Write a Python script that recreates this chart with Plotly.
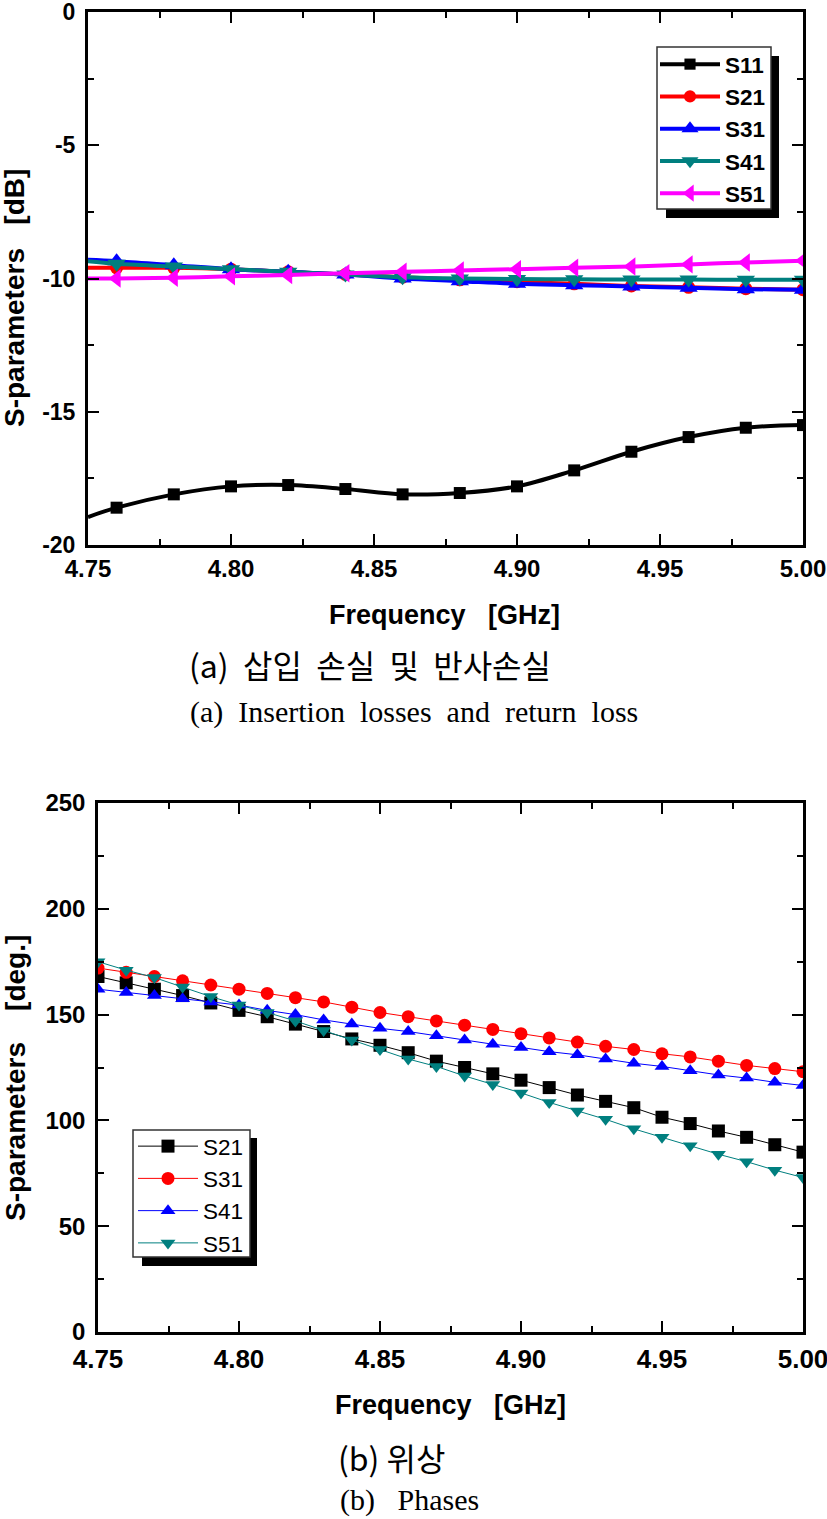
import plotly.graph_objects as go

W, H = 827, 1519

# (a) magnitude, dB
freq_a = [4.75, 4.76, 4.78, 4.80, 4.82, 4.84, 4.86, 4.88, 4.90, 4.92, 4.94, 4.96, 4.98, 5.00]
s11_a = [-18.95, -18.6, -18.1, -17.8, -17.75, -17.9, -18.1, -18.05, -17.8, -17.2, -16.5, -15.95, -15.6, -15.5]
s21_a = [-9.6, -9.6, -9.6, -9.65, -9.75, -9.85, -9.95, -10.05, -10.12, -10.2, -10.28, -10.33, -10.38, -10.42]
s31_a = [-9.3, -9.35, -9.5, -9.65, -9.75, -9.85, -10.0, -10.1, -10.2, -10.25, -10.3, -10.35, -10.4, -10.42]
s41_a = [-9.35, -9.45, -9.55, -9.65, -9.75, -9.85, -9.95, -10.0, -10.02, -10.03, -10.04, -10.04, -10.05, -10.05]
s51_a = [-10.0, -10.0, -9.97, -9.92, -9.87, -9.8, -9.75, -9.7, -9.65, -9.6, -9.55, -9.47, -9.4, -9.33]

# (b) phase, deg
freq_b = [4.75, 4.76, 4.77, 4.78, 4.79, 4.80, 4.81, 4.82, 4.83, 4.84, 4.85, 4.86, 4.87,
          4.88, 4.89, 4.90, 4.91, 4.92, 4.93, 4.94, 4.95, 4.96, 4.97, 4.98, 4.99, 5.00]
s21_b = [168, 165, 162, 159, 155.5, 152, 149, 145.5, 142, 138.5, 135.5, 132, 128,
         125, 122, 119, 115.5, 112, 109, 106, 101.5, 98.5, 95, 92, 88.5, 85]
s31_b = [172, 170, 168, 166, 164, 162, 160, 158, 156, 153.5, 151, 149, 147,
         145, 143, 141, 139, 137, 135, 133.5, 131.5, 130, 128, 126, 124.5, 123]
s41_b = [162, 160.5, 159, 157.5, 156, 154.5, 152, 150, 147.5, 145.5, 143.5, 142, 140,
         138, 136, 134.5, 132.5, 131, 129, 127, 125.5, 123.5, 121.5, 120, 118, 116.5]
s51_b = [175, 171, 167.5, 163, 158.5, 154.5, 151, 147, 142.5, 138, 133.5, 129, 125.5,
         121, 117, 113, 108.5, 104.5, 100.5, 96, 92, 88, 84, 80.5, 76.5, 73]

x_ticks = [4.75, 4.80, 4.85, 4.90, 4.95, 5.00]
x_labels = ['4.75', '4.80', '4.85', '4.90', '4.95', '5.00']
x_minor = [4.775, 4.825, 4.875, 4.925, 4.975]
y_ticks_a = [0, -5, -10, -15, -20]
y_labels_a = ['0', '-5', '-10', '-15', '-20']
y_minor_a = [-2.5, -7.5, -12.5, -17.5]
y_ticks_b = [0, 50, 100, 150, 200, 250]
y_labels_b = ['0', '50', '100', '150', '200', '250']
y_minor_b = [25, 75, 125, 175, 225]

colors = ['black', 'red', 'blue', '#007f7f', 'magenta']
SANS = 'Liberation Sans'
SERIF = 'Liberation Serif'
KOREAN = 'Noto Sans CJK KR'


def px(x):
    return x / W


def py(y):
    return 1 - y / H


fig = go.Figure()

# first point of (a) sits on the axis and has no symbol
series_a = [('S11', s11_a, 'square', 12), ('S21', s21_a, 'circle', 13), ('S31', s31_a, 'triangle-up', 16),
            ('S41', s41_a, 'triangle-down', 16), ('S51', s51_a, 'triangle-left', 16)]
for i, (name, vals, sym, size) in enumerate(series_a):
    fig.add_trace(go.Scatter(
        x=freq_a, y=vals, name=name, mode='lines+markers', xaxis='x', yaxis='y', legend='legend',
        line=dict(color=colors[i], width=4, shape='spline'),
        marker=dict(symbol=sym, size=[0] + [size] * (len(freq_a) - 1), color=colors[i],
                    opacity=1, line=dict(width=0)),
    ))

series_b = [('S21', s21_b, 'square'), ('S31', s31_b, 'circle'),
            ('S41', s41_b, 'triangle-up'), ('S51', s51_b, 'triangle-down')]
for i, (name, vals, sym) in enumerate(series_b):
    fig.add_trace(go.Scatter(
        x=freq_b, y=vals, name=name, mode='lines+markers', xaxis='x2', yaxis='y2', legend='legend2',
        line=dict(color=colors[i], width=1),
        marker=dict(symbol=sym, size=13, color=colors[i]),
    ))


def axis(dom, anchor, rng, ticks, labels, minor, font_size, standoff, line_w):
    return dict(domain=dom, anchor=anchor, range=rng, tickmode='array', tickvals=ticks, ticktext=labels,
                ticks='inside', ticklen=11, tickwidth=2, tickcolor='black', showgrid=False, zeroline=False,
                showline=True, linecolor='black', linewidth=line_w, mirror='ticks', automargin=False,
                ticklabeloverflow='allow', ticklabelstandoff=standoff,
                tickfont=dict(family=SANS, size=font_size, color='black', weight='bold'),
                minor=dict(tickmode='array', tickvals=minor,
                           ticks='inside', ticklen=6, tickwidth=2, tickcolor='black', showgrid=False))


def box(x0, y0, x1, y1, fill, line_w=0):
    return dict(type='rect', xref='paper', yref='paper', x0=px(x0), x1=px(x1), y0=py(y0), y1=py(y1),
                fillcolor=fill, line=dict(width=line_w, color='#333333'), layer='below')


def label(text, x, y, size, family, weight='normal', angle=0, anchor='center'):
    return dict(text=text, x=px(x), y=py(y), xref='paper', yref='paper', showarrow=False,
                xanchor=anchor, yanchor='middle', textangle=angle,
                font=dict(family=family, size=size, color='black', weight=weight))


fig.update_layout(
    template='none',
    width=W, height=H, autosize=False, margin=dict(l=0, r=0, t=0, b=0),
    paper_bgcolor='white', plot_bgcolor='white',
    xaxis=axis([px(88), px(803)], 'y', [4.75, 5.00], x_ticks, x_labels, x_minor, 24, 0, 3),
    yaxis=axis([py(545), py(12)], 'x', [-20, 0], y_ticks_a, y_labels_a, y_minor_a, 23, 5, 3),
    xaxis2=axis([px(98), px(803)], 'y2', [4.75, 5.00], x_ticks, x_labels, x_minor, 26, 2, 2.5),
    yaxis2=axis([py(1332), py(803)], 'x2', [0, 250], y_ticks_b, y_labels_b, y_minor_b, 24, 5, 2.5),
    legend=dict(x=px(655), y=py(43), xanchor='left', yanchor='top', bgcolor='rgba(0,0,0,0)', itemwidth=60,
                font=dict(family=SANS, size=22.5, color='black', weight='bold')),
    legend2=dict(x=px(133), y=py(1125), xanchor='left', yanchor='top', bgcolor='rgba(0,0,0,0)', itemwidth=60,
                 font=dict(family=SANS, size=22.5, color='black')),
    shapes=[box(666, 56, 779, 218, 'black'), box(657, 47, 771, 209, 'white', 1.5),
            box(142, 1138, 257, 1266, 'black'), box(133, 1130, 250, 1257, 'white', 1.5)],
    annotations=[
        label('S-parameters   [dB]', 14, 298, 28, SANS, 'bold', -90),
        label('Frequency   [GHz]', 445, 615, 27, SANS, 'bold'),
        label('(a)  삽입  손실  및  반사손실', 187, 664, 32, KOREAN, anchor='left'),
        label('(a)  Insertion  losses  and  return  loss', 188, 712, 30, SERIF, anchor='left'),
        label('S-parameters    [deg.]', 15, 1078, 28, SANS, 'bold', -90),
        label('Frequency   [GHz]', 450, 1405, 27, SANS, 'bold'),
        label('(b) 위상', 336, 1457, 32, KOREAN, anchor='left'),
        label('(b)   Phases', 338, 1500, 30, SERIF, anchor='left'),
    ],
)

fig.write_html("out.html", config=dict(displayModeBar=False), post_script="document.body.style.margin='0';")
